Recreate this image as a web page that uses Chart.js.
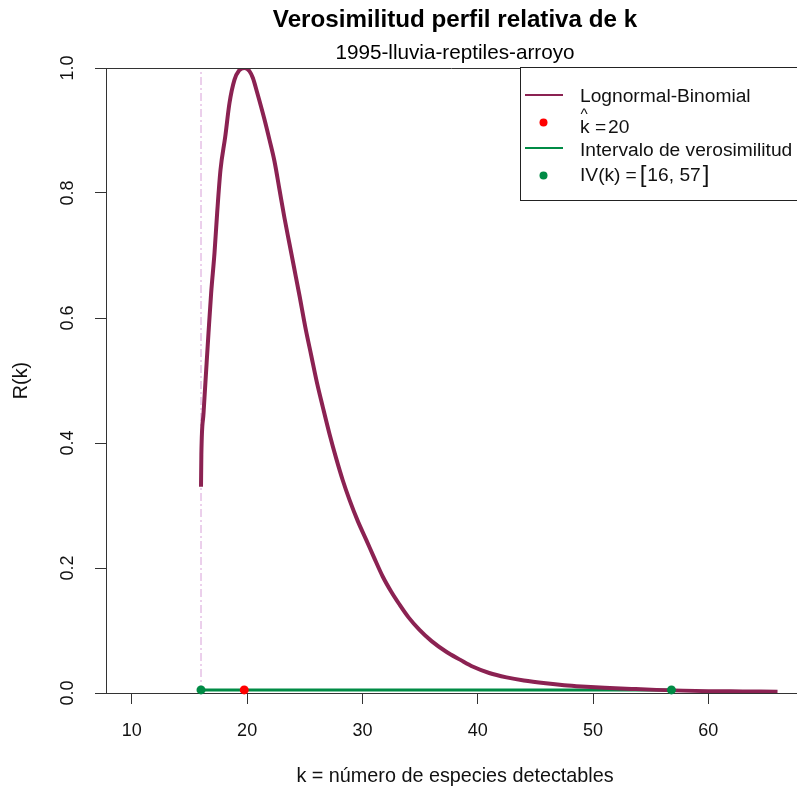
<!DOCTYPE html>
<html>
<head>
<meta charset="utf-8">
<script src="https://cdn.jsdelivr.net/npm/chart.js@4.4.1/dist/chart.umd.min.js"></script>
<style>
  html, body { margin: 0; padding: 0; background: #ffffff; }
  #wrap { width: 797px; height: 792px; }
</style>
</head>
<body>
<div id="wrap"><canvas id="c" width="797" height="792"></canvas></div>
<script>
// Relative profile likelihood R(k) for the Lognormal-Binomial model
const kValues = [16.0, 16.03, 16.22, 16.45, 16.65, 16.88, 17.17, 17.4, 17.69, 18.1, 18.47, 18.9, 19.3, 19.75,
  20.2, 20.5, 20.85, 21.5, 21.94, 22.38, 22.81, 23.24, 23.68, 24.1, 24.54, 25.05, 25.56, 26.05, 26.57,
  27.15, 27.73, 28.3, 28.88, 29.6, 30.33, 31.0, 31.77, 32.5, 33.2, 34.0, 34.95, 36.0, 37.27, 38.5, 39.6,
  41.0, 42.5, 44.0, 45.9, 47.5, 49.0, 51.0, 53.45, 55.5, 57.8, 60.0, 63.0, 66.0];
const relLik = [0.33, 0.381, 0.448, 0.517, 0.576, 0.64, 0.704, 0.768, 0.837, 0.89, 0.944, 0.981, 0.996, 1.0,
  0.995, 0.984, 0.962, 0.918, 0.885, 0.85, 0.805, 0.76, 0.718, 0.678, 0.636, 0.585, 0.54, 0.497, 0.457,
  0.414, 0.375, 0.34, 0.309, 0.275, 0.245, 0.217, 0.186, 0.162, 0.142, 0.121, 0.101, 0.083, 0.066, 0.053, 0.042,
  0.032, 0.025, 0.02, 0.0155, 0.0125, 0.0105, 0.0085, 0.0065, 0.005, 0.0038, 0.003, 0.0025, 0.002];

// Maximum likelihood estimate and likelihood interval
const kHat = 19.75;
const ivLower = 16;
const ivUpper = 56.8;
const ivLevel = 0.005;
const kMin = 16;   // smallest admissible k (dashed reference)

const xTicks = [10, 20, 30, 40, 50, 60];
const yTicks = [0.0, 0.2, 0.4, 0.6, 0.8, 1.0];
const xLimits = [7.76, 67.69];
const yLimits = [0, 1];

const titleText = 'Verosimilitud perfil relativa de k';
const subtitleText = '1995-lluvia-reptiles-arroyo';
const xTitle = 'k = número de especies detectables';
const yTitle = 'R(k)';
const legendLabels = ['Lognormal-Binomial', 'Intervalo de verosimilitud'];

const FONT = '"Liberation Sans", Arial, sans-serif';
const COL_CURVE = '#8B2252';
const COL_IV = '#008B45';
const COL_HAT = '#FF0000';
const COL_REF = '#D8A0D8';
const INK = '#111111';

const curveData = kValues.map((k, i) => ({ x: k, y: relLik[i] }));

const ctxMeasure = document.createElement('canvas').getContext('2d');
function fitSize(text, width, weight) {
  ctxMeasure.font = `${weight || 'normal'} 100px ${FONT}`;
  return 100 * width / ctxMeasure.measureText(text).width;
}

const decorations = {
  id: 'decorations',
  beforeDraw(chart) {
    const c = chart.ctx;
    c.save();
    c.fillStyle = '#ffffff';
    c.fillRect(0, 0, chart.width, chart.height);
    c.restore();
  },
  afterDraw(chart) {
    const c = chart.ctx;
    const area = chart.chartArea;
    const ys = chart.scales.y;
    const centerX = 455;
    c.save();

    // top frame line
    c.strokeStyle = '#333333';
    c.lineWidth = 1;
    c.beginPath();
    c.moveTo(area.left, Math.round(area.top) + 0.5);
    c.lineTo(chart.width, Math.round(area.top) + 0.5);
    c.stroke();

    // title and subtitle
    c.fillStyle = '#000000';
    c.textAlign = 'center';
    c.textBaseline = 'middle';
    c.font = `bold ${fitSize(titleText, 365, 'bold').toFixed(1)}px ${FONT}`;
    c.fillText(titleText, centerX, 20);
    c.font = `${fitSize(subtitleText, 239).toFixed(1)}px ${FONT}`;
    c.fillText(subtitleText, centerX, 53);

    // axis titles
    const axSize = fitSize(xTitle, 318).toFixed(1);
    c.fillStyle = INK;
    c.font = `${axSize}px ${FONT}`;
    c.fillText(xTitle, centerX, 777);
    c.save();
    c.translate(22, (area.top + area.bottom) / 2);
    c.rotate(-Math.PI / 2);
    c.fillText(yTitle, 0, 0);
    c.restore();

    // rotated y tick labels
    c.font = `18px ${FONT}`;
    yTicks.forEach(v => {
      c.save();
      c.translate(68, ys.getPixelForValue(v));
      c.rotate(-Math.PI / 2);
      c.fillText(v.toFixed(1), 0, 0);
      c.restore();
    });

    // legend
    const bx = 520, by = 67, bh = 133;
    c.fillStyle = '#ffffff';
    c.fillRect(bx, by, chart.width - bx + 10, bh);
    c.strokeStyle = '#222222';
    c.lineWidth = 1;
    c.strokeRect(bx + 0.5, by + 0.5, chart.width - bx + 10, bh);

    const lgSize = fitSize(legendLabels[1], 212);
    const lgFont = `${lgSize.toFixed(1)}px ${FONT}`;
    const brFont = `${(lgSize * 1.25).toFixed(1)}px ${FONT}`;
    const tx = 580;
    c.textAlign = 'left';
    c.textBaseline = 'middle';
    c.fillStyle = INK;
    c.font = lgFont;

    // entry 1: curve
    c.strokeStyle = COL_CURVE;
    c.lineWidth = 2;
    c.beginPath(); c.moveTo(525, 95); c.lineTo(563, 95); c.stroke();
    c.fillText(legendLabels[0], tx, 97);

    // entry 2: estimate
    c.fillStyle = COL_HAT;
    c.beginPath(); c.arc(543.5, 122.5, 4, 0, Math.PI * 2); c.fill();
    c.fillStyle = INK;
    c.fillText('k', tx, 128);
    c.font = `${(lgSize * 0.8).toFixed(1)}px ${FONT}`;
    c.fillText('^', tx + 0.5, 115);
    c.font = lgFont;
    c.fillText('=', 595, 128);
    c.fillText(String(Math.round(kHat)), 608, 128);

    // entry 3: interval line
    c.strokeStyle = COL_IV;
    c.lineWidth = 2;
    c.beginPath(); c.moveTo(525, 148); c.lineTo(563, 148); c.stroke();
    c.fillText(legendLabels[1], tx, 151);

    // entry 4: interval bounds
    c.fillStyle = COL_IV;
    c.beginPath(); c.arc(543.5, 175.5, 4, 0, Math.PI * 2); c.fill();
    c.fillStyle = INK;
    let cx = tx;
    c.fillText('IV(k)', cx, 176);
    cx += c.measureText('IV(k)').width + 5;
    c.fillText('=', cx, 176);
    cx += c.measureText('=').width + 3;
    c.font = brFont;
    c.fillText('[', cx, 175);
    cx += c.measureText('[').width + 1;
    c.font = lgFont;
    const inner = `${Math.round(ivLower)}, ${Math.round(ivUpper)}`;
    c.fillText(inner, cx, 176);
    cx += c.measureText(inner).width + 2;
    c.font = brFont;
    c.fillText(']', cx, 175);

    c.restore();
  }
};

new Chart(document.getElementById('c'), {
  type: 'scatter',
  data: {
    datasets: [
      {
        label: 'hat',
        data: [{ x: kHat, y: ivLevel }],
        showLine: false,
        pointRadius: 4.5,
        pointBackgroundColor: COL_HAT,
        pointBorderWidth: 0,
        order: 0,
        clip: false
      },
      {
        label: 'bounds',
        data: [{ x: ivLower, y: ivLevel }, { x: ivUpper, y: ivLevel }],
        showLine: false,
        pointRadius: 4.5,
        pointBackgroundColor: COL_IV,
        pointBorderWidth: 0,
        order: 1,
        clip: false
      },
      {
        label: 'Lognormal-Binomial',
        data: curveData,
        showLine: true,
        borderColor: COL_CURVE,
        borderWidth: 4,
        pointRadius: 0,
        cubicInterpolationMode: 'monotone',
        order: 2
      },
      {
        label: 'Intervalo de verosimilitud',
        data: [{ x: ivLower, y: ivLevel }, { x: ivUpper, y: ivLevel }],
        showLine: true,
        borderColor: COL_IV,
        borderWidth: 3,
        pointRadius: 0,
        order: 3
      },
      {
        label: 'kmin',
        data: [{ x: kMin, y: yLimits[0] }, { x: kMin, y: yLimits[1] }],
        showLine: true,
        borderColor: COL_REF,
        borderWidth: 1,
        borderDash: [8, 3, 2, 3],
        pointRadius: 0,
        order: 4
      }
    ]
  },
  options: {
    responsive: false,
    animation: false,
    devicePixelRatio: 1,
    events: [],
    layout: { padding: { top: 68, left: 0, right: 0, bottom: 0 }, autoPadding: false },
    plugins: {
      legend: { display: false },
      title: { display: false },
      tooltip: { enabled: false }
    },
    scales: {
      x: {
        type: 'linear',
        min: xLimits[0],
        max: xLimits[1],
        afterFit: s => { s.height = 99; },
        afterBuildTicks: s => { s.ticks = xTicks.map(v => ({ value: v })); },
        grid: { drawOnChartArea: false, drawTicks: true, tickLength: 11, color: '#333333', lineWidth: 1 },
        border: { display: true, color: '#333333', width: 1 },
        ticks: {
          font: { family: FONT, size: 18 },
          color: INK,
          padding: 16,
          maxRotation: 0,
          autoSkip: false,
          callback: v => String(v)
        }
      },
      y: {
        type: 'linear',
        min: yLimits[0],
        max: yLimits[1],
        afterFit: s => { s.width = 106; },
        afterBuildTicks: s => { s.ticks = yTicks.map(v => ({ value: v })); },
        grid: { drawOnChartArea: false, drawTicks: true, tickLength: 11, color: '#333333', lineWidth: 1 },
        border: { display: true, color: '#333333', width: 1 },
        ticks: { display: false }
      }
    }
  },
  plugins: [decorations]
});
</script>
</body>
</html>
